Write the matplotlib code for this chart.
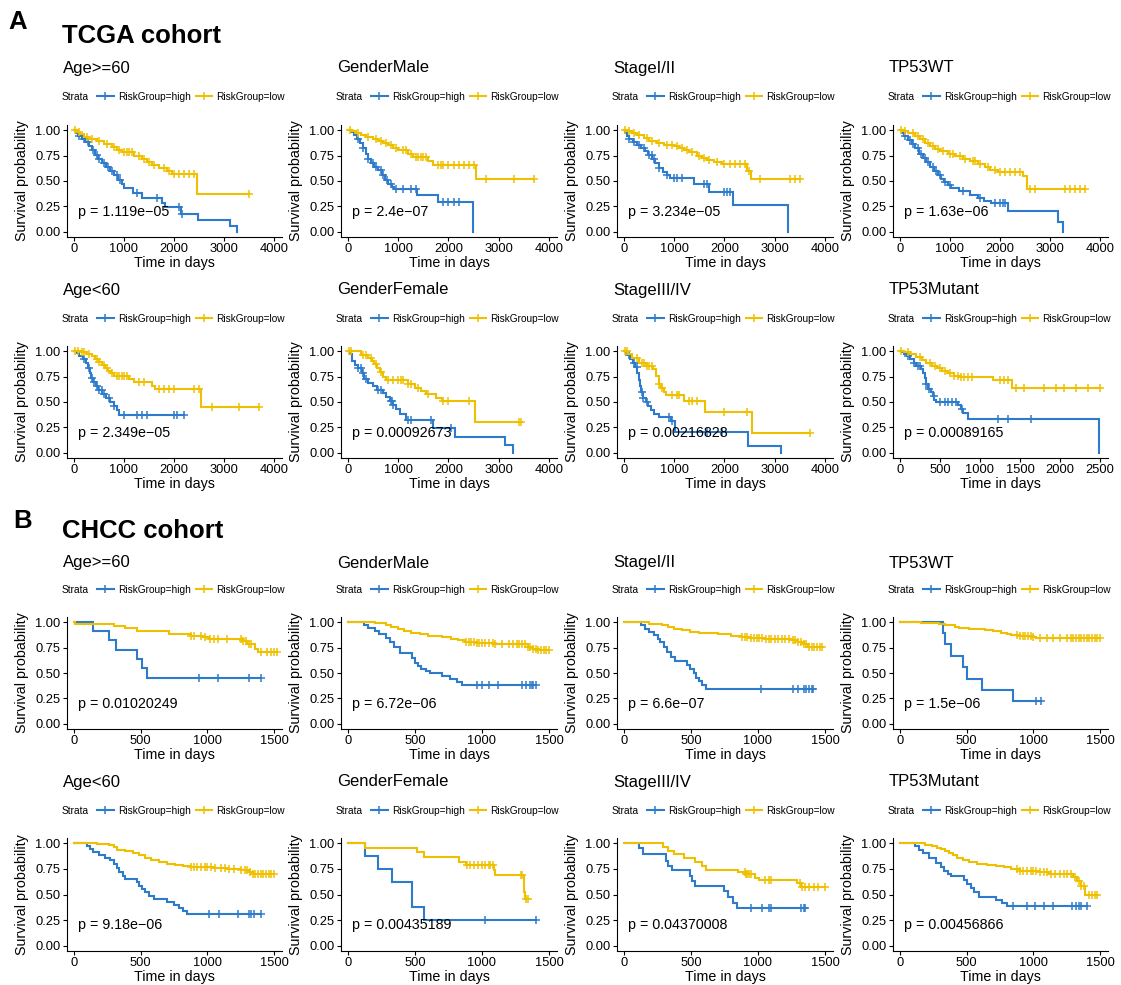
import matplotlib
matplotlib.use('Agg')
import matplotlib.pyplot as plt
from matplotlib.lines import Line2D

plt.rcParams['font.family'] = ['Liberation Sans', 'DejaVu Sans']

W, H, DPI = 1121, 985, 100
BLUE = '#2F7BCB'
YELLOW = '#EFC000'

# ---------------- labels ----------------
cohorts = ['TCGA cohort', 'CHCC cohort']
cohort_letters = ['A', 'B']
titles_row1 = ['Age>=60', 'GenderMale', 'StageI/II', 'TP53WT']
titles_row2 = ['Age<60', 'GenderFemale', 'StageIII/IV', 'TP53Mutant']
legend_labels = ['RiskGroup=high', 'RiskGroup=low']

tcga_pvals = ['p = 1.119e\u221205', 'p = 2.4e\u221207', 'p = 3.234e\u221205', 'p = 1.63e\u221206',
              'p = 2.349e\u221205', 'p = 0.00092673', 'p = 0.00216828', 'p = 0.00089165']
chcc_pvals = ['p = 0.01020249', 'p = 6.72e\u221206', 'p = 6.6e\u221207', 'p = 1.5e\u221206',
              'p = 9.18e\u221206', 'p = 0.00435189', 'p = 0.04370008', 'p = 0.00456866']

tcga_xticks = [0, 1000, 2000, 3000, 4000]
tcga_xticks_mut = [0, 500, 1000, 1500, 2000, 2500]
chcc_xticks = [0, 500, 1000, 1500]
yticks = [0.0, 0.25, 0.5, 0.75, 1.0]
ytick_labels = ['0.00', '0.25', '0.50', '0.75', '1.00']

# ---------------- TCGA curves: (time, survival after step) ----------------
t1_high = [(30,0.97),(80,0.94),(150,0.91),(220,0.88),(300,0.84),(350,0.80),(420,0.76),(480,0.72),
           (560,0.68),(640,0.64),(720,0.60),(800,0.56),(880,0.51),(950,0.47),(1000,0.43),(1170,0.38),
           (1360,0.33),(1750,0.28),(1810,0.24),(2130,0.18),(2480,0.12),(3120,0.06),(3250,0.0)]
t1_high_c = [100,200,280,380,450,500,600,680,760,850,920,1250,1650,2100,2150]
t1_low = [(50,0.98),(120,0.96),(200,0.93),(300,0.91),(450,0.89),(600,0.86),(750,0.83),(850,0.80),
          (950,0.78),(1200,0.75),(1350,0.72),(1450,0.69),(1550,0.66),(1700,0.63),(1850,0.60),
          (1950,0.57),(2450,0.37)]
t1_low_c = [20,100,250,350,500,650,800,900,1000,1050,1100,1150,1300,1400,1500,1600,1800,1900,
            2000,2100,2200,2300,2400,3500]

t2_high = [(60,0.98),(120,0.95),(180,0.91),(240,0.87),(300,0.82),(350,0.77),(400,0.72),(450,0.68),
           (520,0.64),(600,0.61),(680,0.56),(740,0.51),(800,0.47),(880,0.44),(920,0.42),(1370,0.36),
           (1800,0.29),(2480,0.0)]
t2_high_c = [200,300,400,500,550,650,700,780,850,950,1100,1250,1350,1900,2000,2100,2200]
t2_low = [(50,0.99),(150,0.97),(250,0.95),(350,0.93),(500,0.91),(600,0.89),(700,0.87),(800,0.85),
          (900,0.82),(1000,0.80),(1200,0.77),(1300,0.74),(1600,0.70),(1700,0.66),(2550,0.52)]
t2_low_c = [30,200,400,550,650,750,850,950,1100,1150,1250,1350,1400,1450,1500,1550,1800,1850,1900,
            2000,2100,2200,2300,2400,2500,2750,3300,3700]

t3_high = [(20,0.97),(60,0.94),(100,0.91),(180,0.88),(260,0.85),(340,0.82),(420,0.79),(480,0.76),
           (560,0.72),(625,0.68),(700,0.63),(770,0.59),(850,0.56),(910,0.53),(1400,0.47),(1700,0.39),
           (2170,0.26),(3265,0.0)]
t3_high_c = [100,200,300,400,500,550,600,700,850,1000,1050,1150,1600,1650,2000,2050,2100]
t3_low = [(60,0.99),(150,0.97),(250,0.95),(400,0.92),(500,0.89),(650,0.87),(800,0.85),(1000,0.84),
          (1100,0.82),(1200,0.80),(1300,0.78),(1450,0.75),(1550,0.73),(1650,0.71),(1800,0.69),
          (1950,0.67),(2450,0.60),(2530,0.52)]
t3_low_c = [20,100,200,300,450,550,700,850,950,1050,1150,1250,1350,1500,1600,1700,1850,2000,2100,
            2200,2300,2400,2480,2700,3300,3400,3500]

t4_high = [(30,0.97),(80,0.94),(150,0.90),(230,0.86),(300,0.82),(380,0.77),(450,0.73),(520,0.69),
           (600,0.64),(680,0.60),(750,0.56),(820,0.52),(880,0.49),(950,0.46),(1020,0.43),(1170,0.40),
           (1390,0.36),(1550,0.33),(1680,0.30),(1820,0.28),(2150,0.21),(3155,0.10),(3265,0.0)]
t4_high_c = [100,200,250,350,420,500,560,650,720,800,900,1000,1250,1600,1900,2000,2050,2100]
t4_low = [(50,0.99),(150,0.97),(300,0.94),(400,0.91),(500,0.87),(600,0.84),(700,0.81),(800,0.79),
          (950,0.77),(1100,0.75),(1250,0.72),(1400,0.70),(1550,0.67),(1700,0.64),(1800,0.61),
          (1950,0.59),(2450,0.55),(2540,0.42)]
t4_low_c = [20,100,250,350,450,550,650,750,850,1000,1050,1200,1300,1450,1500,1600,1750,1900,2000,
            2100,2200,2300,2400,2600,2700,3300,3400,3500,3600,3700]

t5_high = [(50,0.98),(100,0.95),(170,0.92),(230,0.88),(280,0.83),(310,0.78),(340,0.74),(380,0.70),
           (430,0.66),(480,0.62),(560,0.58),(640,0.54),(720,0.50),(790,0.46),(850,0.42),(900,0.37)]
t5_high_c = [200,300,350,400,450,500,550,600,700,800,1000,1250,1350,1450,2000,2050,2200]
t5_low = [(150,0.99),(250,0.97),(350,0.95),(420,0.92),(500,0.89),(560,0.86),(620,0.83),(680,0.80),
          (740,0.78),(800,0.76),(1100,0.73),(1200,0.70),(1550,0.66),(1620,0.63),(2540,0.45)]
t5_low_c = [20,80,150,200,300,450,500,600,650,750,850,900,950,1000,1050,1300,1400,1700,1800,1900,
            2000,2400,2500,2750,3300,3700]

t6_high = [(30,0.97),(80,0.90),(130,0.86),(200,0.83),(280,0.78),(320,0.73),(400,0.69),(500,0.66),
           (580,0.62),(700,0.59),(760,0.55),(830,0.51),(900,0.47),(960,0.43),(1040,0.38),(1150,0.32),
           (1700,0.24),(2120,0.16),(3130,0.08),(3275,0.0)]
t6_high_c = [200,250,300,350,600,650,850,880,900,1200,1250,1650,2050]
t6_low = [(250,0.96),(400,0.93),(470,0.90),(520,0.87),(580,0.83),(630,0.79),(690,0.75),(760,0.72),
          (1190,0.68),(1330,0.64),(1450,0.61),(1550,0.58),(1760,0.54),(1870,0.51),(2530,0.30)]
t6_low_c = [20,50,300,350,450,550,650,800,900,1000,1050,1100,1200,1250,1400,1600,1900,2000,2400,
            3400,3450]

t7_high = [(30,0.98),(70,0.96),(120,0.92),(170,0.88),(220,0.84),(260,0.78),(290,0.72),(320,0.66),
           (340,0.60),(370,0.54),(430,0.50),(480,0.46),(540,0.42),(600,0.38),(700,0.35),(930,0.31),
           (1010,0.21),(2460,0.07),(3120,0.0)]
t7_high_c = [100,200,250,350,380,450,900,950,1650,1950]
t7_low = [(80,0.97),(150,0.93),(290,0.88),(430,0.85),(580,0.82),(640,0.76),(690,0.68),(730,0.64),
          (790,0.60),(830,0.57),(1190,0.51),(1620,0.40),(2550,0.20)]
t7_low_c = [20,50,250,350,400,450,500,550,700,750,950,1050,1100,1300,1350,1450,2000,2450,3700]

t8_high = [(20,0.99),(50,0.97),(90,0.95),(130,0.92),(170,0.88),(200,0.85),(260,0.82),(290,0.78),
           (310,0.74),(330,0.68),(350,0.63),(390,0.60),(410,0.56),(430,0.52),(450,0.50),(730,0.47),
           (760,0.43),(790,0.39),(850,0.33),(2490,0.0)]
t8_high_c = [100,170,220,250,330,360,420,500,560,600,650,700,780,1230,1350,1640]
t8_low = [(50,0.99),(120,0.97),(200,0.94),(270,0.91),(330,0.88),(400,0.85),(460,0.83),(530,0.80),
          (600,0.78),(680,0.76),(750,0.75),(1160,0.72),(1400,0.64)]
t8_low_c = [10,100,250,380,440,500,560,620,680,720,760,800,850,900,1250,1300,1350,1450,1550,1800,
            1950,2050,2200,2350,2500]

# ---------------- CHCC curves ----------------
c1_high = [(143,0.91),(260,0.82),(312,0.73),(475,0.64),(510,0.55),(550,0.455)]
c1_high_c = [935,1080,1315,1400]
c1_low = [(10,0.98),(300,0.96),(380,0.94),(470,0.91),(710,0.885),(880,0.865),(960,0.85),(1010,0.835),
          (1260,0.81),(1300,0.785),(1360,0.74),(1380,0.71)]
c1_low_c = [880,900,950,980,1020,1050,1080,1150,1250,1270,1290,1310,1330,1400,1450,1480,1500,1520]

c2_high = [(120,0.97),(150,0.94),(200,0.91),(230,0.88),(280,0.84),(310,0.80),(340,0.76),(390,0.70),
           (480,0.65),(500,0.60),(520,0.57),(545,0.54),(580,0.52),(610,0.50),(700,0.47),(760,0.44),
           (810,0.41),(850,0.38)]
c2_high_c = [960,1000,1050,1120,1300,1330,1360,1370,1380,1400]
c2_low = [(200,0.99),(280,0.97),(320,0.95),(370,0.93),(420,0.91),(470,0.895),(540,0.88),(600,0.865),
          (700,0.85),(770,0.835),(820,0.82),(870,0.805),(960,0.79),(1100,0.78),(1340,0.76),(1380,0.74),
          (1420,0.73)]
c2_low_c = [880,900,920,940,960,980,1000,1020,1050,1080,1100,1150,1200,1230,1260,1280,1300,1320,
            1340,1360,1380,1400,1420,1440,1460,1480,1500]

c3_high = [(130,0.97),(160,0.93),(190,0.90),(220,0.87),(250,0.83),(270,0.80),(300,0.76),(320,0.71),
           (350,0.66),(380,0.62),(470,0.58),(490,0.54),(520,0.50),(540,0.45),(560,0.42),(580,0.38),
           (610,0.34)]
c3_high_c = [1020,1260,1300,1340,1360,1380,1400,1410]
c3_low = [(190,0.985),(280,0.97),(330,0.955),(370,0.935),(430,0.92),(490,0.905),(560,0.89),(700,0.88),
          (800,0.865),(880,0.85),(940,0.84),(1050,0.83),(1250,0.82),(1300,0.80),(1340,0.78),(1370,0.76)]
c3_low_c = [880,900,920,950,970,990,1010,1030,1060,1080,1100,1130,1150,1180,1200,1230,1260,1280,1300,
            1320,1340,1360,1380,1400,1420,1440,1460,1480]

c4_high = [(320,0.89),(338,0.78),(384,0.67),(472,0.555),(505,0.445),(616,0.335),(846,0.225)]
c4_high_c = [1020,1060]
c4_low = [(157,0.99),(290,0.98),(340,0.97),(410,0.955),(440,0.94),(520,0.93),(640,0.92),(700,0.91),
          (760,0.895),(800,0.88),(830,0.87),(900,0.865),(1000,0.85),(1020,0.84)]
c4_low_c = [880,900,920,940,960,980,1000,1050,1100,1150,1200,1250,1280,1300,1320,1340,1360,1380,1400,
            1420,1440,1460,1480,1500]

c5_high = [(100,0.97),(120,0.94),(140,0.91),(190,0.88),(230,0.86),(270,0.84),(300,0.80),(320,0.76),
           (340,0.72),(370,0.68),(380,0.655),(470,0.62),(490,0.58),(510,0.55),(530,0.52),(560,0.49),
           (600,0.46),(700,0.43),(750,0.40),(790,0.37),(820,0.34),(850,0.315)]
c5_high_c = [1010,1090,1230,1310,1330,1350,1400]
c5_low = [(170,0.99),(260,0.98),(300,0.96),(320,0.93),(380,0.92),(440,0.90),(490,0.88),(530,0.86),
          (580,0.84),(640,0.82),(700,0.80),(760,0.785),(820,0.775),(880,0.765),(1050,0.755),
          (1150,0.745),(1250,0.735),(1310,0.72),(1340,0.70)]
c5_low_c = [880,900,920,950,980,1000,1030,1060,1100,1130,1160,1200,1250,1280,1300,1320,1340,1360,
            1380,1400,1420,1440,1460,1480,1500]

c6_high = [(125,0.875),(220,0.75),(330,0.625),(475,0.375),(565,0.25)]
c6_high_c = [1020,1400]
c6_low = [(126,0.955),(515,0.91),(565,0.865),(830,0.82),(880,0.79),(1090,0.74),(1100,0.69),(1310,0.52),
          (1320,0.46)]
c6_low_c = [890,910,940,970,1000,1020,1050,1060,1080,1290,1300,1330,1340]

c7_high = [(110,0.95),(140,0.89),(310,0.83),(330,0.78),(360,0.74),(490,0.68),(510,0.63),(530,0.58),
           (745,0.53),(775,0.48),(810,0.42),(840,0.37)]
c7_high_c = [950,1030,1080,1100,1320,1340,1350]
c7_low = [(290,0.96),(330,0.92),(370,0.89),(450,0.86),(530,0.82),(580,0.78),(610,0.74),(850,0.72),
          (905,0.695),(980,0.665),(1010,0.645),(1290,0.61),(1320,0.57)]
c7_low_c = [900,910,920,930,950,1050,1080,1100,1310,1330,1350,1380,1420,1450,1500]

c8_high = [(110,0.97),(140,0.93),(170,0.90),(220,0.86),(270,0.81),(310,0.77),(330,0.73),(360,0.70),
           (380,0.68),(480,0.64),(500,0.60),(530,0.56),(555,0.52),(590,0.48),(720,0.45),(765,0.42),
           (800,0.39)]
c8_high_c = [850,950,1010,1080,1150,1290,1320,1340,1360,1400]
c8_low = [(190,0.985),(240,0.97),(280,0.955),(310,0.94),(340,0.92),(370,0.90),(400,0.88),(430,0.86),
          (470,0.84),(520,0.82),(580,0.80),(650,0.79),(720,0.78),(780,0.77),(830,0.75),(900,0.73),
          (1040,0.72),(1120,0.70),(1300,0.67),(1330,0.63),(1360,0.58),(1390,0.50)]
c8_low_c = [880,900,920,950,980,1000,1020,1050,1080,1100,1130,1160,1200,1230,1250,1280,1310,1340,
            1360,1380,1420,1440,1460,1480]

tcga_curves = [(t1_high, t1_high_c, t1_low, t1_low_c), (t2_high, t2_high_c, t2_low, t2_low_c),
               (t3_high, t3_high_c, t3_low, t3_low_c), (t4_high, t4_high_c, t4_low, t4_low_c),
               (t5_high, t5_high_c, t5_low, t5_low_c), (t6_high, t6_high_c, t6_low, t6_low_c),
               (t7_high, t7_high_c, t7_low, t7_low_c), (t8_high, t8_high_c, t8_low, t8_low_c)]
chcc_curves = [(c1_high, c1_high_c, c1_low, c1_low_c), (c2_high, c2_high_c, c2_low, c2_low_c),
               (c3_high, c3_high_c, c3_low, c3_low_c), (c4_high, c4_high_c, c4_low, c4_low_c),
               (c5_high, c5_high_c, c5_low, c5_low_c), (c6_high, c6_high_c, c6_low, c6_low_c),
               (c7_high, c7_high_c, c7_low, c7_low_c), (c8_high, c8_high_c, c8_low, c8_low_c)]

# ---------------- layout (pixels) ----------------
col_left = [67, 341, 617, 893]
col_right = [282, 557, 833, 1108]
row_top = [125, 346, 617, 838]
row_bot = [237, 458, 729, 951]
title_y = [68, 290, 563, 782]
legend_y = [97, 319, 590, 811]

fig = plt.figure(figsize=(W / DPI, H / DPI), dpi=DPI)


def fx(px):
    return px / W


def fy(py):
    return 1 - py / H


def km_xy(steps, cens):
    t = [0.0] + [p[0] for p in steps]
    s = [1.0] + [p[1] for p in steps]
    end = max(cens) if cens else t[-1]
    if end > t[-1]:
        t.append(end)
        s.append(s[-1])
    return t, s


def surv_at(steps, times):
    out = []
    for c in times:
        v = 1.0
        for tt, ss in steps:
            if tt <= c:
                v = ss
        out.append(v)
    return out


TXT = 7.3
LW = 1.5
for ci in range(2):
    curves = tcga_curves if ci == 0 else chcc_curves
    pvals = tcga_pvals if ci == 0 else chcc_pvals
    for k in range(8):
        r = ci * 2 + k // 4
        c = k % 4
        title = (titles_row1 if k < 4 else titles_row2)[c]
        if ci == 0:
            xt = tcga_xticks_mut if k == 7 else tcga_xticks
        else:
            xt = chcc_xticks
        X = xt[-1]
        L, R, T, B = col_left[c], col_right[c], row_top[r], row_bot[r]
        ax = fig.add_axes([fx(L), fy(B), fx(R - L), (B - T) / H])
        hs, hc, ls, lc = curves[k]
        for steps, cens, col in [(hs, hc, BLUE), (ls, lc, YELLOW)]:
            t, s = km_xy(steps, cens)
            ax.step(t, s, where='post', color=col, lw=LW, solid_joinstyle='miter')
            ax.plot(cens, surv_at(steps, cens), linestyle='none', marker='+', ms=5.5,
                    mew=1.1, color=col)
        ax.set_xlim(-0.035 * X, 1.04 * X)
        ax.set_ylim(-0.05, 1.05)
        ax.set_xticks(xt)
        ax.set_xticklabels([str(v) for v in xt])
        ax.set_yticks(yticks)
        ax.set_yticklabels(ytick_labels)
        for sp in ['top', 'right']:
            ax.spines[sp].set_visible(False)
        for sp in ['left', 'bottom']:
            ax.spines[sp].set_linewidth(0.8)
            ax.spines[sp].set_color('black')
        ax.tick_params(axis='both', length=3, width=0.8, pad=1.5, labelsize=9.3,
                       colors='black')
        ax.text(0.02 * X, 0.2, pvals[k], fontsize=10.3, ha='left', va='center')
        cx = (L + R) / 2
        fig.text(fx(L - 4), fy(title_y[r]), title, fontsize=12, ha='left', va='center')
        fig.text(fx(cx), fy(B + 26), 'Time in days', fontsize=10.3, ha='center', va='center')
        fig.text(fx(L - 45), fy((T + B) / 2), 'Survival probability', fontsize=10.3,
                 rotation=90, ha='center', va='center')
        fig.text(fx(L - 5), fy(legend_y[r]), 'Strata', fontsize=TXT, ha='left', va='center')
        handles = [Line2D([], [], color=BLUE, lw=LW, marker='+', ms=5.5, mew=1.1),
                   Line2D([], [], color=YELLOW, lw=LW, marker='+', ms=5.5, mew=1.1)]
        fig.legend(handles, legend_labels, loc='center left',
                   bbox_to_anchor=(fx(L + 30), fy(legend_y[r])), ncol=2, frameon=False,
                   fontsize=TXT, handlelength=1.65, handletextpad=0.4, columnspacing=0.5,
                   borderpad=0, borderaxespad=0)

fig.text(fx(8), fy(22), cohort_letters[0], fontsize=18.5, fontweight='bold', ha='left', va='center')
fig.text(fx(62), fy(36), cohorts[0], fontsize=18.5, fontweight='bold', ha='left', va='center')
fig.text(fx(13), fy(521), cohort_letters[1], fontsize=18.5, fontweight='bold', ha='left', va='center')
fig.text(fx(62), fy(531), cohorts[1], fontsize=18.5, fontweight='bold', ha='left', va='center')

fig.savefig('out.png', dpi=DPI)
